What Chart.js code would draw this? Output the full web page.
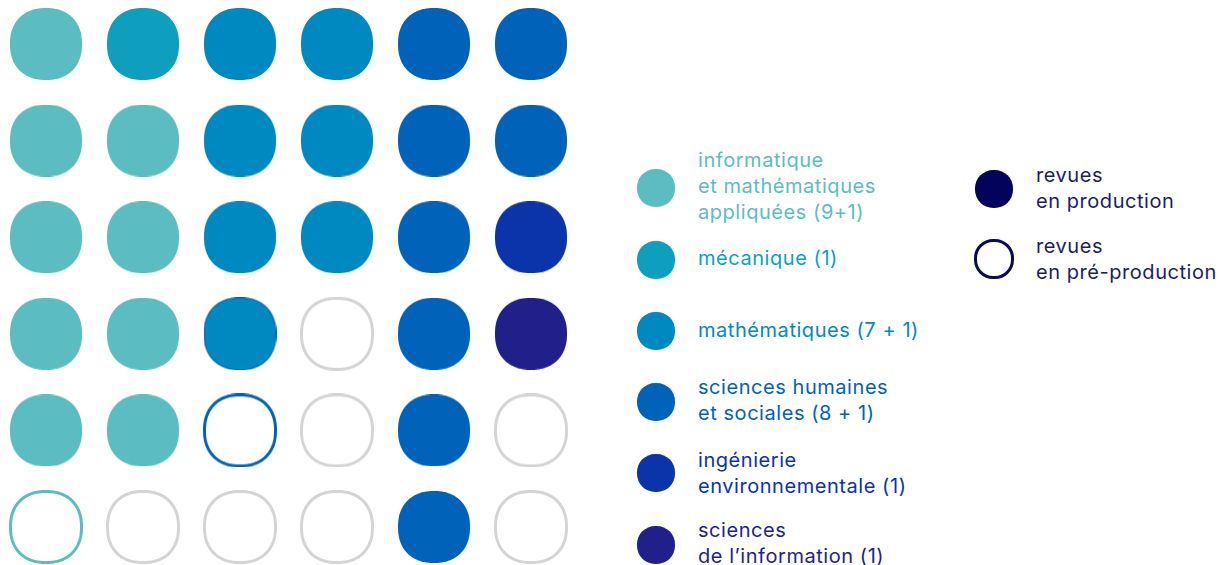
<!DOCTYPE html>
<html>
<head>
<meta charset="utf-8">
<script src="https://cdn.jsdelivr.net/npm/chart.js@4"></script>
<style>
  body { margin: 0; background: #fff; font-family: Inter, "Noto Sans", sans-serif; }
  #wrap { position: relative; width: 1220px; height: 565px; overflow: hidden; }
  #grid { position: absolute; left: 0; top: 0; width: 580px; height: 565px; }
  .item { position: absolute; font-size: 20px; letter-spacing: 0.55px; line-height: 26px; white-space: nowrap; }
  .sw { position: absolute; width: 38px; height: 38px; border-radius: 48%; box-sizing: border-box; }
</style>
</head>
<body>
<div id="wrap">
  <div id="grid"><canvas id="dots"></canvas></div>
  <div id="legend"></div>
</div>
<script>
// categories, their colours and counts (filled + pre-production)
const categories = ['informatique\net mathématiques\nappliquées (9+1)', 'mécanique (1)', 'mathématiques (7 + 1)',
  'sciences humaines\net sociales (8 + 1)', 'ingénierie\nenvironnementale (1)', 'sciences\nde l\u2019information (1)'];
const codes = ['I', 'M', 'A', 'S', 'E', 'N'];
const colors = ['#5bbdc1', '#0e9fbf', '#0089c0', '#0062b8', '#0b33aa', '#211f8a'];
const published = [9, 1, 7, 8, 1, 1];
const preprod = [1, 0, 1, 1, 0, 0];

// the 6x6 grid: upper case = in production,
// lower case = in pre-production (outline), '-' = empty slot
const gridRows = [
  ['I', 'M', 'A', 'A', 'S', 'S'],
  ['I', 'I', 'A', 'A', 'S', 'S'],
  ['I', 'I', 'A', 'A', 'S', 'E'],
  ['I', 'I', 'A', '-', 'S', 'N'],
  ['I', 'I', 's', '-', 'S', '-'],
  ['i', '-', '-', '-', 'S', '-']
];

const grey = '#d4d4d4';

// squircle-shaped point image (superellipse)
function squircle(size, fill, stroke, lw) {
  const c = document.createElement('canvas');
  c.width = c.height = size;
  const g = c.getContext('2d');
  const a = size / 2 - (lw ? lw / 2 : 0), n = 2.25;
  g.beginPath();
  for (let i = 0; i <= 240; i++) {
    const t = i / 240 * Math.PI * 2;
    const ct = Math.cos(t), st = Math.sin(t);
    const x = size / 2 + a * Math.sign(ct) * Math.pow(Math.abs(ct), 2 / n);
    const y = size / 2 + a * Math.sign(st) * Math.pow(Math.abs(st), 2 / n);
    if (i) g.lineTo(x, y); else g.moveTo(x, y);
  }
  g.closePath();
  if (fill) { g.fillStyle = fill; g.fill(); }
  if (stroke) { g.strokeStyle = stroke; g.lineWidth = lw; g.stroke(); }
  return c;
}

const datasets = [];
codes.forEach((c, k) => {
  const filled = [], outline = [], edged = [];
  gridRows.forEach((row, r) => row.forEach((v, col) => {
    const p = {x: col + 1, y: r + 1};
    if (v === c) (c === 'A' && r === 3 ? edged : filled).push(p);
    if (v === c.toLowerCase()) outline.push(p);
  }));
  datasets.push({data: filled, pointStyle: squircle(72, colors[k]), clip: false});
  if (edged.length) datasets.push({data: edged, pointStyle: squircle(73, colors[k], colors[3], 1.2), clip: false});
  if (outline.length) datasets.push({data: outline, pointStyle: squircle(74, null, colors[k === 0 ? 0 : 3], 3), clip: false});
});
const empty = [];
gridRows.forEach((row, r) => row.forEach((v, col) => { if (v === '-') empty.push({x: col + 1, y: r + 1}); }));
datasets.push({data: empty, pointStyle: squircle(74, null, grey, 3), clip: false});

new Chart(document.getElementById('dots'), {
  type: 'scatter',
  data: {datasets: datasets},
  options: {
    responsive: true,
    maintainAspectRatio: false,
    animation: false,
    events: [],
    layout: {padding: 0, autoPadding: false},
    scales: {
      x: {display: false, min: 1 - 46 / 97, max: 6 + 49 / 97},
      y: {display: false, reverse: true, min: 1 - 44 / 96.6, max: 6 + 38 / 96.6}
    },
    plugins: {legend: {display: false}, tooltip: {enabled: false}}
  }
});

// legend (HTML)
const legendPos = [[188, 147], [260, 245], [331, 317], [402, 374], [473, 447], [545, 517]];
const legend = document.getElementById('legend');
categories.forEach((label, k) => {
  const sw = document.createElement('div');
  sw.className = 'sw';
  sw.style.left = '637px'; sw.style.top = (legendPos[k][0] - 19) + 'px';
  sw.style.background = colors[k];
  legend.appendChild(sw);
  const t = document.createElement('div');
  t.className = 'item';
  t.style.left = '698px'; t.style.top = legendPos[k][1] + 'px';
  t.style.color = colors[k];
  t.innerHTML = label.split('\n').join('<br>');
  legend.appendChild(t);
});
const statusLabels = ['revues\nen production', 'revues\nen pré-production'];
const statusPos = [[189, 162], [259, 233]];
statusLabels.forEach((label, k) => {
  const sw = document.createElement('div');
  sw.className = 'sw';
  sw.style.left = (k ? 974 : 975) + 'px';
  sw.style.width = sw.style.height = (k ? 40 : 38) + 'px';
  sw.style.top = (statusPos[k][0] - (k ? 20 : 19)) + 'px';
  if (k) sw.style.border = '3px solid #0a0a5c'; else sw.style.background = '#03035c';
  legend.appendChild(sw);
  const t = document.createElement('div');
  t.className = 'item';
  t.style.left = '1036px'; t.style.top = statusPos[k][1] + 'px';
  t.style.color = '#1d1d5e';
  t.innerHTML = label.split('\n').join('<br>');
  legend.appendChild(t);
});
</script>
</body>
</html>
